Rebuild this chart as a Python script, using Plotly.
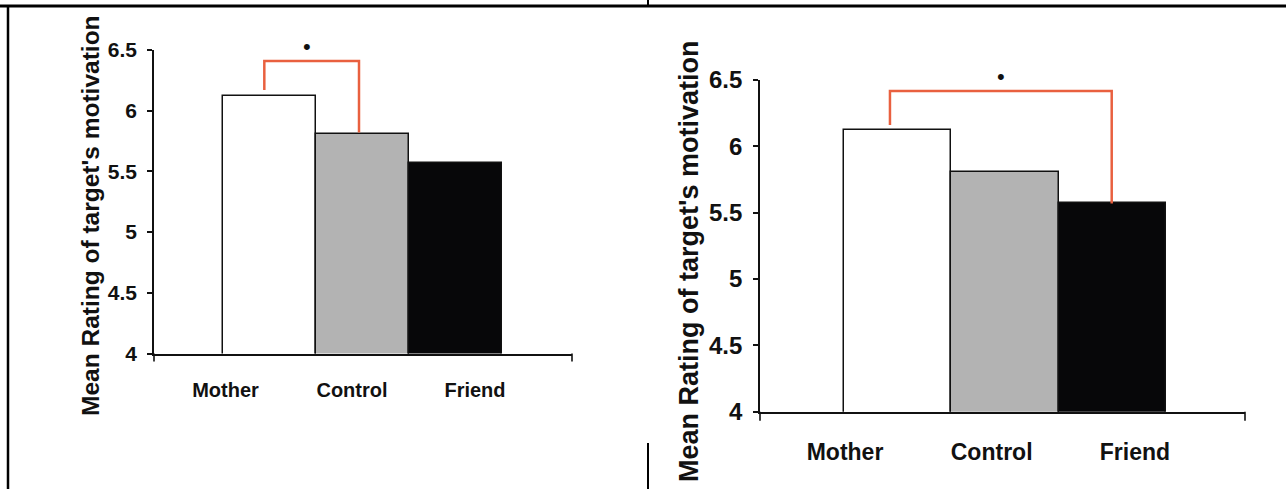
import plotly.graph_objects as go

# ---- data ----
categories = ["Mother", "Control", "Friend"]
mean_rating = [6.12, 5.81, 5.57]
bar_colors = ["#ffffff", "#b3b3b3", "#070709"]
y_ticks = [4, 4.5, 5, 5.5, 6, 6.5]
y_tick_labels = ["4", "4.5", "5", "5.5", "6", "6.5"]
y_title = "Mean Rating of target's motivation"
sig_marker = "•"
sig_level = 6.53

W, H = 1286, 489
FONT = "Liberation Sans, Arial, sans-serif"
RED = "#e9603f"
Y_RANGE = [4, 6.5]

def px_x(p):
    return p / W

def px_y(p):
    return (H - p) / H

fig = go.Figure()

panels = [
    dict(xs="", ys="", xdom=(154, 572), ydom=(353.5, 50), xr=(-1.243, 3.247),
         lab_off=[-0.475, -0.116, 0.205], tickfont=21, catfont=20, standoff=18,
         title_x=90, title_y=216, title_size=24.5,
         br=dict(i=0, j=1, dl=-0.058, dr=-0.041, top=6.41, lgap=0.05, rgap=0.01),
         star_x=0.40, foot=8),
    dict(xs="2", ys="2", xdom=(760, 1245), ydom=(411.7, 80), xr=(-1.279, 3.233),
         lab_off=[-0.488, -0.124, 0.209], tickfont=24, catfont=23, standoff=19,
         title_x=689, title_y=262, title_size=27,
         br=dict(i=0, j=2, dl=-0.07, dr=-0.007, top=6.417, lgap=0.04, rgap=0.0),
         star_x=0.963, foot=9),
]

shapes = []
annotations = []
for k, p in enumerate(panels):
    xa = "x" + p["xs"]
    ya = "y" + p["ys"]
    idx = list(range(len(categories)))
    fig.add_trace(go.Bar(
        x=idx, y=mean_rating, width=1,
        marker=dict(color=bar_colors, line=dict(color="#111111", width=1.5)),
        xaxis=xa, yaxis=ya, showlegend=False, hoverinfo="skip",
    ))
    b = p["br"]
    bx = [idx[b["i"]] + b["dl"], idx[b["i"]] + b["dl"], idx[b["j"]] + b["dr"], idx[b["j"]] + b["dr"]]
    by = [mean_rating[b["i"]] + b["lgap"], b["top"], b["top"], mean_rating[b["j"]] + b["rgap"]]
    fig.add_trace(go.Scatter(
        x=bx, y=by, mode="lines", line=dict(color=RED, width=2.5),
        xaxis=xa, yaxis=ya, showlegend=False, hoverinfo="skip",
    ))
    annotations.append(dict(
        text=sig_marker, xref=xa, yref=ya + " domain", x=p["star_x"],
        y=(sig_level - Y_RANGE[0]) / (Y_RANGE[1] - Y_RANGE[0]),
        xanchor="center", yanchor="middle", showarrow=False,
        font=dict(family=FONT, size=22, color="#111111"),
    ))

    xdom = [px_x(p["xdom"][0]), px_x(p["xdom"][1])]
    ydom = [px_y(p["ydom"][0]), px_y(p["ydom"][1])]
    fig.layout["xaxis" + p["xs"]] = dict(
        domain=xdom, range=list(p["xr"]), anchor=ya, automargin=False,
        tickvals=[i + o for i, o in zip(idx, p["lab_off"])], ticktext=categories,
        ticks="", showline=True, linecolor="#111111", linewidth=1.6,
        showgrid=False, zeroline=False, ticklabelstandoff=p["standoff"],
        tickfont=dict(family=FONT, size=p["catfont"], color="#111111", weight="bold"),
        fixedrange=True,
    )
    fig.layout["yaxis" + p["ys"]] = dict(
        domain=ydom, range=Y_RANGE, anchor=xa, automargin=False,
        tickvals=y_ticks, ticktext=y_tick_labels,
        ticks="outside", ticklen=5, tickwidth=1.5, tickcolor="#111111",
        showline=True, linecolor="#111111", linewidth=1.6,
        showgrid=False, zeroline=False, ticklabelstandoff=6,
        tickfont=dict(family=FONT, size=p["tickfont"], color="#111111", weight="bold"),
        fixedrange=True,
    )
    for xp in p["xdom"]:
        shapes.append(dict(type="line", xref="paper", yref="paper",
                           x0=px_x(xp), x1=px_x(xp),
                           y0=px_y(p["ydom"][0]), y1=px_y(p["ydom"][0] + p["foot"]),
                           line=dict(color="#111111", width=1.6)))
    annotations.append(dict(
        text=y_title, textangle=-90, xref="paper", yref="paper",
        x=px_x(p["title_x"]), y=px_y(p["title_y"]), xanchor="center", yanchor="middle",
        showarrow=False,
        font=dict(family=FONT, size=p["title_size"], color="#111111", weight="bold"),
    ))

shapes += [
    dict(type="line", xref="paper", yref="paper", x0=px_x(0), x1=1, y0=px_y(6), y1=px_y(6),
         line=dict(color="#000000", width=3)),
    dict(type="line", xref="paper", yref="paper", x0=px_x(8), x1=px_x(8), y0=px_y(5), y1=0,
         line=dict(color="#000000", width=2.5)),
    dict(type="line", xref="paper", yref="paper", x0=px_x(648), x1=px_x(648), y0=1, y1=px_y(7),
         line=dict(color="#000000", width=2)),
    dict(type="line", xref="paper", yref="paper", x0=px_x(648), x1=px_x(648), y0=px_y(443), y1=0,
         line=dict(color="#000000", width=2)),
]

fig.update_layout(
    template="none",
    width=W, height=H, margin=dict(l=0, r=0, t=0, b=0, pad=0, autoexpand=False),
    paper_bgcolor="white", plot_bgcolor="white",
    bargap=0, showlegend=False,
    shapes=shapes, annotations=annotations,
)

fig.write_html("out.html", config={"displayModeBar": False})
